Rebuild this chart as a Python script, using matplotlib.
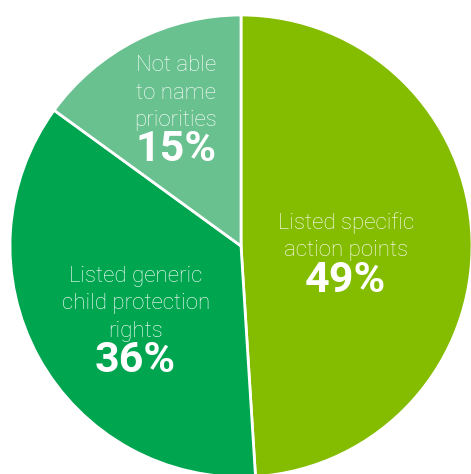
import matplotlib
matplotlib.use("Agg")
import matplotlib.pyplot as plt

# share of responses, clockwise from 12 o'clock
labels = ["Listed specific\naction points",
          "Listed generic\nchild protection\nrights",
          "Not able\nto name\npriorities"]
shares = [49, 36, 15]
colors = ["#84bc00", "#00a54f", "#69c18f"]

# label anchor points in pixel space (image y measured from top)
label_xy = [(346, 237), (136, 304), (176, 93)]
pct_xy = [(345, 281), (135, 361), (176, 149)]

W, H = 471, 474
fig = plt.figure(figsize=(W / 100, H / 100), dpi=100)
ax = fig.add_axes([0, 0, 1, 1])

ax.pie(shares, colors=colors, startangle=90, counterclock=False,
       center=(241, H - 246), radius=231, frame=True,
       wedgeprops=dict(edgecolor="white", linewidth=2))

ax.set_xlim(0, W)
ax.set_ylim(0, H)
ax.set_aspect("equal")
ax.axis("off")

for lab, (x, y) in zip(labels, label_xy):
    ax.text(x, H - y, lab, ha="center", va="center", color="white",
            fontsize=16, family="Roboto", fontweight="light",
            linespacing=1.38)

for val, (x, y) in zip(shares, pct_xy):
    ax.text(x, H - y, f"{val}%", ha="center", va="center", color="white",
            fontsize=31, family="Roboto", fontweight="bold")

fig.savefig("out.png", dpi=100)
